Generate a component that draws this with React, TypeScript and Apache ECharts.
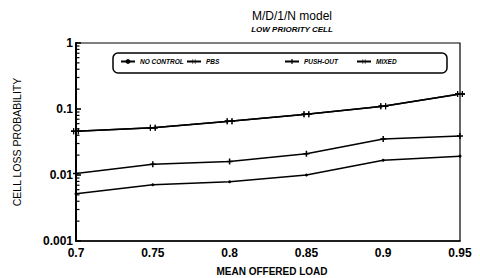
import React, { useEffect, useRef } from "react";
import * as echarts from "echarts";

const loads = ["0.7", "0.75", "0.8", "0.85", "0.9", "0.95"];
const noControl = [0.0052, 0.0071, 0.0079, 0.0100, 0.0167, 0.0193];
const pbs = [0.046, 0.052, 0.065, 0.083, 0.110, 0.169];
const pushOut = [0.0105, 0.0145, 0.016, 0.021, 0.035, 0.039];
const mixed = [0.046, 0.052, 0.065, 0.083, 0.110, 0.169];
const majorTicks = [0.001, 0.01, 0.1, 1];
const decades = [0.001, 0.01, 0.1];
const minorMultipliers = [2, 3, 4, 5, 6, 7, 8, 9];

const PLUS = "path://M3,0h2v3h3v2h-3v3h-2v-3h-3v-2h3z";
const DPLUS = "path://M3,0h1.6v3h3v2h-3v3h-1.6v-3h-3v-2h3zM10,0h1.6v3h3v2h-3v3h-1.6v-3h-3v-2h3z";

export default function App() {
  const ref = useRef<HTMLDivElement>(null);
  useEffect(() => {
    const chart = echarts.init(ref.current!, null, { renderer: "svg" });
    const legendText = {
      fontSize: 6.5,
      fontStyle: "italic" as const,
      fontWeight: "bold" as const,
      color: "#000",
      fontFamily: "Liberation Sans, Arial, sans-serif",
    };
    const mkLegend = (name: string, left: number) => ({
      data: [name],
      left,
      top: 58,
      itemWidth: 14,
      itemHeight: 6,
      padding: 0,
      textStyle: legendText,
    });
    const lineSeries = (name: string, data: number[], symbol: string, size: number | number[]) => ({
      name,
      type: "line",
      data,
      symbol,
      symbolSize: size,
      showSymbol: true,
      lineStyle: { color: "#000", width: 1.5 },
      itemStyle: { color: "#000" },
    });
    chart.setOption({
      animation: false,
      backgroundColor: "#fff",
      textStyle: { fontFamily: "Liberation Sans, Arial, sans-serif" },
      title: [
        {
          text: "M/D/1/N model",
          left: 287,
          top: 5,
          textAlign: "center",
          textStyle: { fontSize: 12, fontWeight: "normal", color: "#000" },
        },
        {
          text: "LOW PRIORITY CELL",
          left: 287,
          top: 20,
          textAlign: "center",
          textStyle: { fontSize: 8, fontWeight: "bold", fontStyle: "italic", color: "#000" },
        },
        {
          text: "MEAN OFFERED LOAD",
          left: 267,
          top: 261,
          textAlign: "center",
          textStyle: { fontSize: 10, fontWeight: "bold", color: "#000" },
        },
      ],
      legend: [
        mkLegend("NO CONTROL", 120),
        mkLegend("PBS", 186),
        mkLegend("PUSH-OUT", 284),
        mkLegend("MIXED", 356),
      ],
      grid: {
        left: 76,
        right: 20,
        top: 43,
        bottom: 37,
        show: true,
        borderColor: "#000",
        borderWidth: 1.2,
        backgroundColor: "transparent",
      },
      xAxis: {
        type: "category",
        data: loads,
        boundaryGap: false,
        axisLine: { lineStyle: { color: "#000", width: 1.6 } },
        axisTick: { show: false },
        axisLabel: { fontSize: 12, color: "#000", margin: 6, fontWeight: "bold" },
        splitLine: { show: false },
      },
      yAxis: {
        type: "log",
        logBase: 10,
        min: 0.001,
        max: 1,
        name: "CELL LOSS PROBABILITY",
        nameLocation: "middle",
        nameGap: 54,
        nameTextStyle: { fontSize: 10.5, color: "#000" },
        axisLine: { show: true, lineStyle: { color: "#000", width: 2 } },
        axisTick: { show: false },
        axisLabel: {
          fontSize: 12,
          color: "#000",
          margin: 3,
          fontWeight: "bold",
          formatter: (v: number) => String(Number(v.toPrecision(3))),
        },
        splitLine: { show: false },
      },
      series: [
        lineSeries("NO CONTROL", noControl, "circle", 3),
        lineSeries("PBS", pbs, DPLUS, [10, 6]),
        lineSeries("PUSH-OUT", pushOut, PLUS, 6),
        lineSeries("MIXED", mixed, DPLUS, [10, 6]),
      ],
    });

    const tickEls: any[] = [];
    const addTick = (v: number, len: number, w: number) => {
      const p = chart.convertToPixel({ gridIndex: 0 }, [0, v]) as number[];
      if (!p || isNaN(p[0]) || isNaN(p[1])) return;
      tickEls.push({
        type: "line",
        shape: { x1: p[0], y1: p[1], x2: p[0] + len, y2: p[1] },
        style: { stroke: "#000", lineWidth: w },
        z: 20,
        silent: true,
      });
    };
    majorTicks.forEach((v) => addTick(v, 5, 1.6));
    decades.forEach((d) => minorMultipliers.forEach((m) => addTick(d * m, 3.5, 1.2)));

    chart.setOption({
      graphic: [
        {
          type: "rect",
          shape: { x: 113, y: 53, width: 334, height: 20, r: 5 },
          style: { fill: "none", stroke: "#000", lineWidth: 1.5 },
          z: 10,
          silent: true,
        },
        ...tickEls,
      ],
    });
    return () => chart.dispose();
  }, []);
  return (
    <div
      ref={ref}
      style={{ position: "absolute", left: 0, top: 0, width: 480, height: 278 }}
    />
  );
}
